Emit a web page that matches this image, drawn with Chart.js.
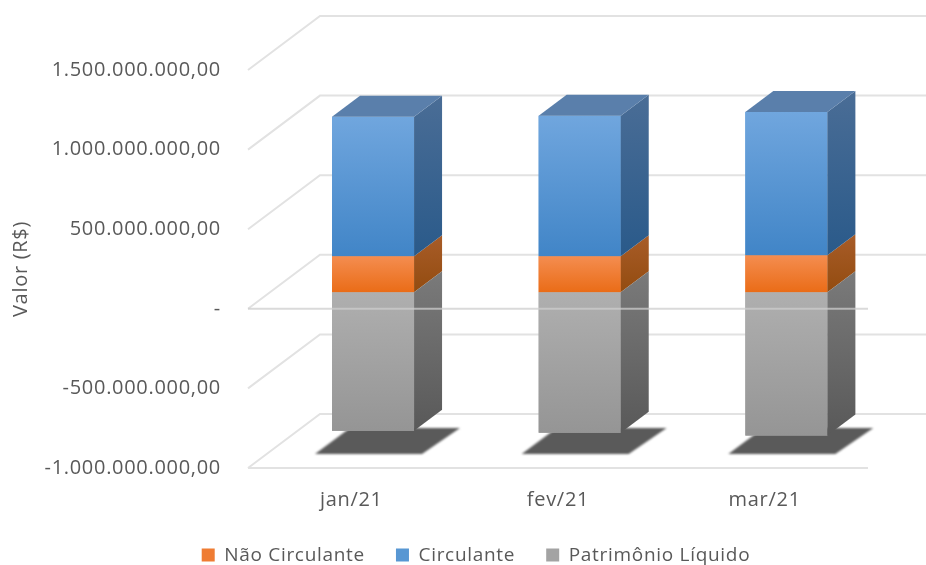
<!DOCTYPE html>
<html>
<head>
<meta charset="utf-8">
<title>Valor (R$)</title>
<style>
  html, body { margin: 0; padding: 0; background: #fff; overflow: hidden; }
  canvas { display: block; filter: blur(0.6px); }
</style>
<script src="https://cdn.jsdelivr.net/npm/chart.js@4"></script>
</head>
<body>
<canvas id="chart" width="926" height="565"></canvas>
<script>
const categories = ['jan/21', 'fev/21', 'mar/21'];
const naoCirculante = [227000000, 227000000, 233000000];
const circulante = [875000000, 882000000, 900000000];
const patrimonioLiquido = [-870000000, -882000000, -900000000];
const axisTitle = 'Valor (R$)';

const FONT = '"Open Sans", "Noto Sans", sans-serif';
const TEXT = '#595959';
const GRID = '#e2e2e2';

// wall depth and how far the bars sit inside it
const DEPTH_X = 72, DEPTH_Y = 54;
const BAR_X = 21.7, BAR_Y = 16.5;
const BAR_DEPTH_X = 28, BAR_DEPTH_Y = 21;

const faces = [
    { front: ['#f48d50', '#ea6c17'], side: ['#a85c28', '#934c10'] },
    { front: ['#70a6de', '#4185c7'], side: ['#4a6d96', '#2a5a8a'], top: '#5a7fab' },
    { front: ['#afafaf', '#959595'], side: ['#7a7a7a', '#595959'] }
];

function formatTick(v) {
    if (v === 0) return '-';
    const s = Math.abs(v).toString().replace(/\B(?=(\d{3})+$)/g, '.');
    return (v < 0 ? '-' : '') + s + ',00';
}

function vGrad(ctx, y0, y1, colors) {
    const g = ctx.createLinearGradient(0, y0, 0, y1);
    g.addColorStop(0, colors[0]);
    g.addColorStop(1, colors[1]);
    return g;
}

const plot3d = {
    id: 'plot3d',
    beforeUpdate(chart) {
        chart.ctx.letterSpacing = '0.7px';
    },
    beforeDraw(chart) {
        chart.ctx.letterSpacing = '0.7px';
        // legend sits centred on the page, below the axis labels
        chart.legend.left = 26;
        chart.legend.right = 926;
        chart.legend.top = 514.6;
    },
    beforeDatasetsDraw(chart) {
        const ctx = chart.ctx;
        const y = chart.scales.y;
        const area = chart.chartArea;

        // side wall and back wall gridlines
        ctx.save();
        ctx.strokeStyle = GRID;
        ctx.lineWidth = 2;
        y.ticks.forEach(function(t) {
            const py = y.getPixelForValue(t.value);
            ctx.beginPath();
            ctx.moveTo(area.left, py);
            ctx.lineTo(area.left + DEPTH_X, py - DEPTH_Y);
            ctx.lineTo(chart.width, py - DEPTH_Y);
            ctx.stroke();
        });
        ctx.restore();

        // floor line behind the shadows
        const floor = y.getPixelForValue(y.min);
        ctx.save();
        ctx.strokeStyle = GRID;
        ctx.lineWidth = 2;
        ctx.beginPath();
        ctx.moveTo(area.left, floor);
        ctx.lineTo(area.right, floor);
        ctx.stroke();
        ctx.restore();

        // shadows on the floor
        const bars = chart.getDatasetMeta(0).data;
        ctx.save();
        ctx.fillStyle = '#5a5a5a';
        ctx.filter = 'blur(1.2px)';
        bars.forEach(function(bar) {
            const left = bar.x + BAR_X - bar.width / 2;
            ctx.beginPath();
            ctx.moveTo(left - 17, floor - 14);
            ctx.lineTo(left + 90, floor - 14);
            ctx.lineTo(left + 128, floor - 40);
            ctx.lineTo(left + 18, floor - 40);
            ctx.closePath();
            ctx.fill();
        });
        ctx.restore();

        ctx.save();
        ctx.translate(BAR_X, -BAR_Y);
    },
    afterDatasetsDraw(chart) {
        const ctx = chart.ctx;
        const y = chart.scales.y;
        const area = chart.chartArea;

        chart.data.datasets.forEach(function(ds, i) {
            const face = faces[i];
            chart.getDatasetMeta(i).data.forEach(function(bar) {
                const left = bar.x - bar.width / 2;
                const right = bar.x + bar.width / 2;
                const top = Math.min(bar.y, bar.base);
                const bottom = Math.max(bar.y, bar.base);

                ctx.fillStyle = vGrad(ctx, top, bottom, face.front);
                ctx.fillRect(left, top, bar.width, bottom - top);

                ctx.fillStyle = vGrad(ctx, top - BAR_DEPTH_Y, bottom, face.side);
                ctx.beginPath();
                ctx.moveTo(right, top);
                ctx.lineTo(right + BAR_DEPTH_X, top - BAR_DEPTH_Y);
                ctx.lineTo(right + BAR_DEPTH_X, bottom - BAR_DEPTH_Y);
                ctx.lineTo(right, bottom);
                ctx.closePath();
                ctx.fill();

                if (face.top) {
                    ctx.fillStyle = face.top;
                    ctx.beginPath();
                    ctx.moveTo(left, top);
                    ctx.lineTo(left + BAR_DEPTH_X, top - BAR_DEPTH_Y);
                    ctx.lineTo(right + BAR_DEPTH_X, top - BAR_DEPTH_Y);
                    ctx.lineTo(right, top);
                    ctx.closePath();
                    ctx.fill();
                }
            });
        });
        ctx.restore();

        // zero line passes in front of the bars
        const zero = y.getPixelForValue(0);
        ctx.save();
        ctx.strokeStyle = 'rgba(205,205,205,0.75)';
        ctx.lineWidth = 2;
        ctx.beginPath();
        ctx.moveTo(area.left, zero);
        ctx.lineTo(area.right, zero);
        ctx.stroke();
        ctx.restore();
    }
};

const canvas = document.getElementById('chart');

new Chart(canvas, {
    type: 'bar',
    data: {
        labels: categories,
        datasets: [
            { label: 'Não Circulante', data: naoCirculante, backgroundColor: '#ef7c33' },
            { label: 'Circulante', data: circulante, backgroundColor: '#5897d3' },
            { label: 'Patrimônio Líquido', data: patrimonioLiquido, backgroundColor: '#a3a3a3' }
        ]
    },
    options: {
        responsive: false,
        animation: false,
        devicePixelRatio: 1,
        layout: { padding: { top: 70, right: 58, left: 0, bottom: -20 } },
        datasets: { bar: { categoryPercentage: 1, barPercentage: 0.397 } },
        plugins: {
            tooltip: { enabled: false },
            legend: {
                position: 'bottom',
                labels: {
                    boxWidth: 13,
                    boxHeight: 13,
                    color: TEXT,
                    padding: 31,
                    font: { family: FONT, size: 19 }
                }
            }
        },
        scales: {
            x: {
                stacked: true,
                grid: { display: false },
                border: { display: false },
                ticks: { color: TEXT, padding: 12, maxRotation: 0, autoSkip: false, font: { family: FONT, size: 20 } },
                afterFit: function(scale) { scale.height = 57; }
            },
            y: {
                stacked: true,
                min: -1000000000,
                max: 1500000000,
                grid: { display: false },
                border: { display: false },
                title: {
                    display: true,
                    text: axisTitle,
                    color: TEXT,
                    padding: { top: 9, bottom: 0 },
                    font: { family: FONT, size: 20 }
                },
                ticks: {
                    stepSize: 500000000,
                    color: TEXT,
                    padding: 19,
                    font: { family: FONT, size: 20 },
                    callback: formatTick
                },
                afterFit: function(scale) { scale.width = 248; }
            }
        }
    },
    plugins: [plot3d]
});
</script>
</body>
</html>
